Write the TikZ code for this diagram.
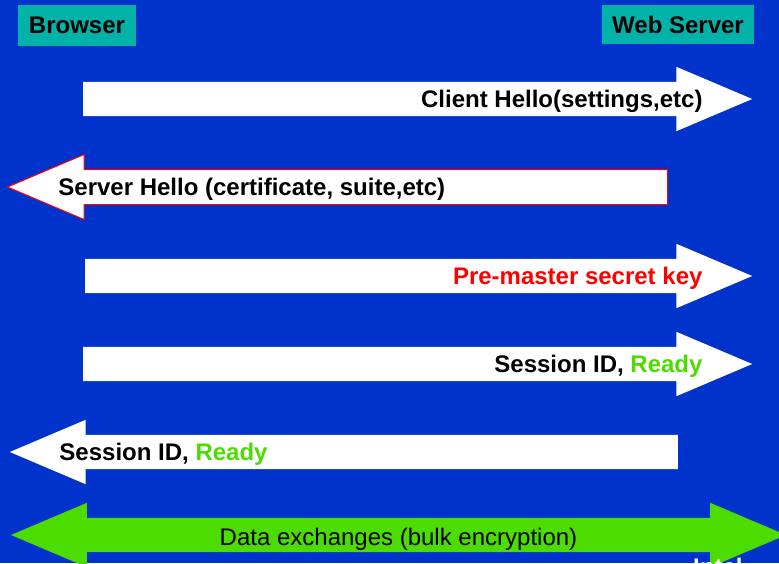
\documentclass[tikz,border=0pt]{standalone}
\usepackage{fontspec}
\setmainfont{Liberation Sans}
\usetikzlibrary{shapes.arrows,positioning}
\definecolor{slideblue}{RGB}{0,51,204}
\definecolor{partyteal}{RGB}{0,178,168}
\definecolor{bulkgreen}{RGB}{76,220,0}
\definecolor{keyred}{RGB}{255,0,0}
\newcommand\slidesize{\fontsize{24}{28}\selectfont}
\tikzset{
  party/.style={fill=partyteal,inner sep=0pt,font=\slidesize\bfseries},
  msgarrow/.style={single arrow,fill=white,minimum width=64pt,
    single arrow head extend=15pt,single arrow tip angle=46,
    inner ysep=17pt,inner xsep=0pt},
  backarrow/.style={msgarrow,shape border rotate=180},
  msg/.style={font=\slidesize\bfseries,inner sep=0pt,yshift=-2pt},
  bulkarrow/.style={double arrow,fill=bulkgreen,minimum width=64pt,
    double arrow head extend=15pt,double arrow tip angle=46,
    inner ysep=17pt,inner xsep=0pt}
}

\begin{document}
\begin{tikzpicture}[x=1pt,y=-1pt,font=\slidesize]
  \useasboundingbox (0,0) rectangle (779,563);
  \fill[slideblue] (0,0) rectangle (779,563);
  \clip (0,0) rectangle (779,563);
  % the two ends
  \node[party,minimum width=118pt,minimum height=41pt] (browser) at (77,25.5) {Browser};
  \node[party,minimum width=152pt,minimum height=39pt] (server) at (678,24.5) {Web Server};
  % handshake messages
  \node[msgarrow,anchor=tail,minimum height=669pt] (hello) at (83,99) {};
  \node[backarrow,draw=keyred,line width=1pt,anchor=tail,minimum height=660pt] (reply) at (668,187) {};
  \node[msgarrow,anchor=tail,minimum height=667pt] (premaster) at (85,276) {};
  \node[msgarrow,anchor=tail,minimum height=669pt] (ready) at (83,364) {};
  \node[backarrow,anchor=tail,minimum height=668pt] (readyback) at (678,452) {};
  \node[bulkarrow,minimum height=775pt] (bulk) at (398.5,535) {};
  \node[msg,left=50pt of hello.tip] (hellotext) {Client Hello(settings,etc)};
  \node[msg,right=52pt of reply.tip] (replytext) {Server Hello (certificate, suite,etc)};
  \node[msg,text=keyred,left=50pt of premaster.tip] (premastertext) {Pre-master secret key};
  \node[msg,left=50pt of ready.tip] (readytext) {Session ID, \textcolor{bulkgreen}{Ready}};
  \node[msg,right=50pt of readyback.tip] (readybacktext) {Session ID, \textcolor{bulkgreen}{Ready}};
  \node[inner sep=0pt,yshift=-4pt] (bulktext) at (bulk.center) {Data exchanges (bulk encryption)};
  \node[msg,text=white,anchor=base west] (logo) at (693,573) {Intel};
\end{tikzpicture}
\end{document}
